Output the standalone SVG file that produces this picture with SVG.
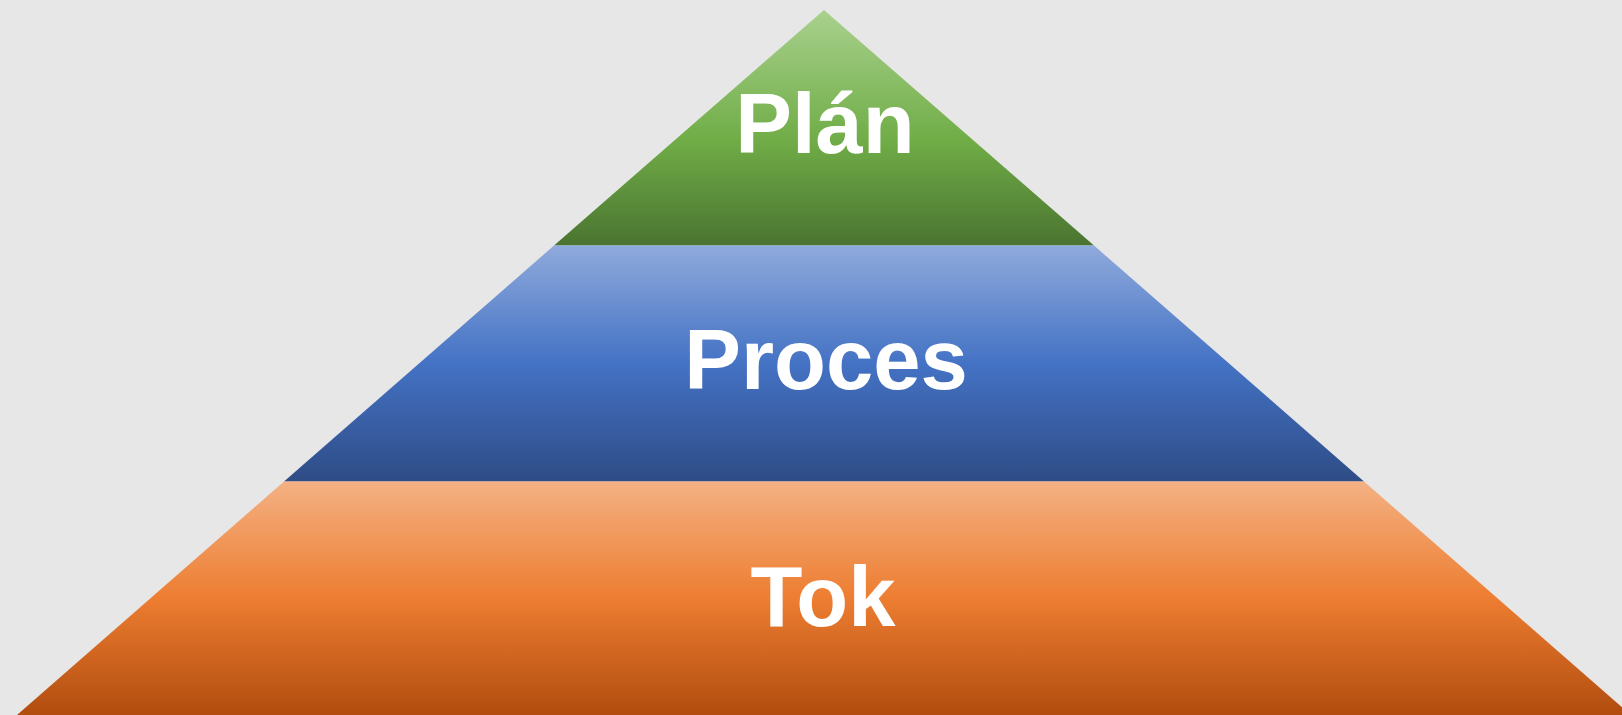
<svg xmlns="http://www.w3.org/2000/svg" width="1622" height="715" viewBox="0 0 1622 715">
  <defs>
    <linearGradient id="gGreen" x1="0" y1="0" x2="0" y2="1">
      <stop offset="0" stop-color="#a9d18e"/>
      <stop offset="0.55" stop-color="#70ad47"/>
      <stop offset="1" stop-color="#4a7430"/>
    </linearGradient>
    <linearGradient id="gBlue" x1="0" y1="0" x2="0" y2="1">
      <stop offset="0" stop-color="#8faadc"/>
      <stop offset="0.5" stop-color="#4472c4"/>
      <stop offset="1" stop-color="#2e4c86"/>
    </linearGradient>
    <linearGradient id="gOrange" x1="0" y1="0" x2="0" y2="1">
      <stop offset="0" stop-color="#f4b183"/>
      <stop offset="0.5" stop-color="#ed7d31"/>
      <stop offset="1" stop-color="#b14c0e"/>
    </linearGradient>
    <style>
      .lbl { font-family: "Liberation Sans", Arial, sans-serif; font-weight: bold; font-size: 85px; fill: #ffffff; text-anchor: middle; }
    </style>
  </defs>
  <rect width="1622" height="715" fill="#e7e7e7"/>
  <g id="layer-plan">
    <polygon points="824,10 1094,245.5 554,245.5" fill="url(#gGreen)"/>
    <text class="lbl" x="825" y="153">Plán</text>
  </g>
  <g id="layer-proces">
    <polygon points="554,245.5 1094,245.5 1364,481.5 284,481.5" fill="url(#gBlue)"/>
    <text class="lbl" x="826" y="389">Proces</text>
  </g>
  <g id="layer-tok">
    <polygon points="284,481.5 1364,481.5 1631,715 17,715" fill="url(#gOrange)"/>
    <text class="lbl" x="823" y="626">Tok</text>
  </g>
  <g id="connectors"/>
</svg>
